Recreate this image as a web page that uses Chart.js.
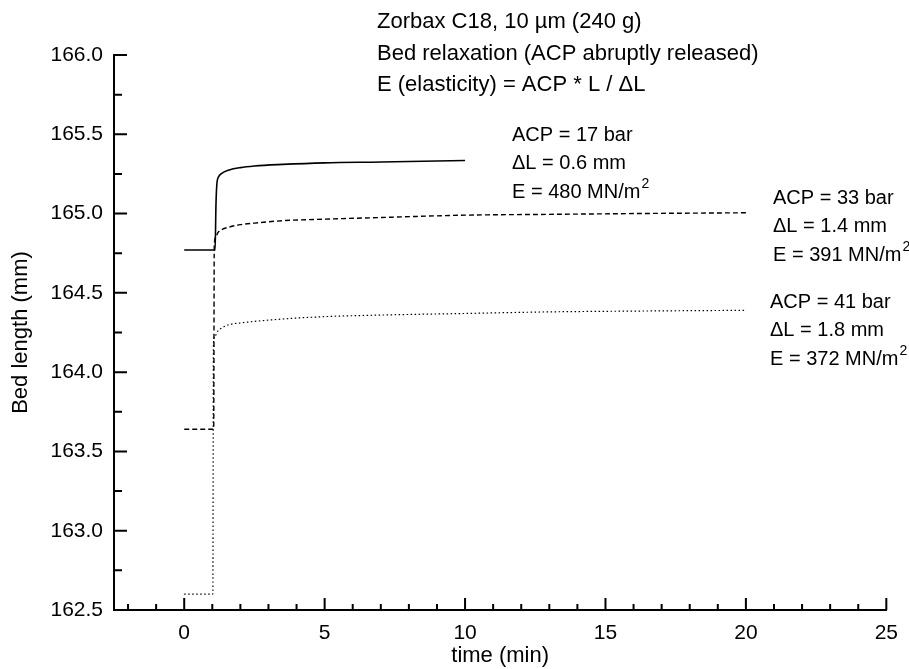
<!DOCTYPE html>
<html>
<head>
<meta charset="utf-8">
<script src="https://cdn.jsdelivr.net/npm/chart.js@4/dist/chart.umd.min.js"></script>
<style>
html,body{margin:0;padding:0;background:#fff;}
canvas{display:block;}
</style>
</head>
<body>
<canvas id="c" width="909" height="669"></canvas>
<script>
// ---- data ----
const time17 = [0, 1.1, 1.13, 1.16, 1.22, 1.35, 1.6, 2.0, 2.5, 3.5, 5, 7, 10];
const len17  = [164.77, 164.77, 165.05, 165.18, 165.23, 165.255, 165.275, 165.29, 165.30, 165.31, 165.32, 165.325, 165.335];

const time33 = [0, 1.05, 1.07, 1.12, 1.2, 1.35, 1.6, 2.0, 2.5, 3.5, 5, 7, 10, 13, 16, 20];
const len33  = [163.64, 163.64, 164.80, 164.85, 164.88, 164.90, 164.915, 164.93, 164.94, 164.955, 164.965, 164.975, 164.99, 164.995, 165.0, 165.005];

const time41 = [0, 1.02, 1.04, 1.1, 1.2, 1.35, 1.6, 2.0, 2.5, 3.5, 5, 7, 10, 13, 16, 20];
const len41  = [162.60, 162.60, 164.18, 164.23, 164.26, 164.28, 164.30, 164.31, 164.32, 164.335, 164.35, 164.36, 164.37, 164.38, 164.385, 164.39];

const xTickValues = [0, 5, 10, 15, 20, 25];
const yTickValues = [162.5, 163.0, 163.5, 164.0, 164.5, 165.0, 165.5, 166.0];
const xMinorValues = [-2,-1,1,2,3,4,6,7,8,9,11,12,13,14,16,17,18,19,21,22,23,24];
const yMinorValues = [162.75, 163.25, 163.75, 164.25, 164.75, 165.25, 165.75];

const titleLines = ["Zorbax C18, 10 \u00b5m (240 g)", "Bed relaxation (ACP abruptly released)", "E (elasticity) = ACP * L / \u0394L"];
const block17 = ["ACP = 17 bar", "\u0394L = 0.6 mm", "E = 480 MN/m"];
const block33 = ["ACP = 33 bar", "\u0394L = 1.4 mm", "E = 391 MN/m"];
const block41 = ["ACP = 41 bar", "\u0394L = 1.8 mm", "E = 372 MN/m"];

function pts(xs, ys){ return xs.map((x,i)=>({x:x, y:ys[i]})); }

const FONT = "'Liberation Sans', Arial, Helvetica, sans-serif";

const decor = {
  id: 'decor',
  afterDraw(chart){
    const ctx = chart.ctx;
    const xs = chart.scales.x, ys = chart.scales.y;
    const a = chart.chartArea;
    ctx.save();
    ctx.strokeStyle = '#000';
    ctx.lineWidth = 2;
    ctx.beginPath();
    xTickValues.forEach(v=>{ const p = xs.getPixelForValue(v); ctx.moveTo(p, a.bottom); ctx.lineTo(p, a.bottom-12); });
    xMinorValues.forEach(v=>{ const p = xs.getPixelForValue(v); ctx.moveTo(p, a.bottom); ctx.lineTo(p, a.bottom-6); });
    yTickValues.forEach(v=>{ const p = ys.getPixelForValue(v); ctx.moveTo(a.left, p); ctx.lineTo(a.left+13, p); });
    yMinorValues.forEach(v=>{ const p = ys.getPixelForValue(v); ctx.moveTo(a.left, p); ctx.lineTo(a.left+8, p); });
    ctx.stroke();

    ctx.fillStyle = '#000';
    ctx.textBaseline = 'middle';
    ctx.textAlign = 'left';
    ctx.font = '22px ' + FONT;
    const tY = [22, 54, 85];
    titleLines.forEach((s,i)=>ctx.fillText(s, 377, tY[i]));

    function block(lines, x, y0){
      ctx.font = '20px ' + FONT;
      lines.forEach((s,i)=>ctx.fillText(s, x, y0 + i*28.5));
      const last = lines[lines.length-1];
      const w = ctx.measureText(last).width;
      ctx.font = '14px ' + FONT;
      ctx.fillText('2', x + w + 1, y0 + 2*28.5 - 8);
    }
    block(block17, 512, 135);
    block(block33, 773, 198);
    block(block41, 770, 302);
    ctx.restore();
  }
};

new Chart(document.getElementById('c'), {
  type: 'line',
  data: {
    datasets: [
      { label: 'ACP 17 bar', data: pts(time17, len17), borderColor: '#000', borderWidth: 1.6, pointRadius: 0, fill: false, cubicInterpolationMode: 'monotone' },
      { label: 'ACP 33 bar', data: pts(time33, len33), borderColor: '#000', borderWidth: 1.4, borderDash: [5, 3], pointRadius: 0, fill: false, cubicInterpolationMode: 'monotone' },
      { label: 'ACP 41 bar', data: pts(time41, len41), borderColor: '#000', borderWidth: 1.2, borderDash: [1.5, 2.5], pointRadius: 0, fill: false, cubicInterpolationMode: 'monotone' }
    ]
  },
  options: {
    responsive: false,
    devicePixelRatio: 1,
    animation: false,
    events: [],
    layout: { padding: { left: 0, top: 55, right: 16, bottom: 0 } },
    plugins: { legend: { display: false }, tooltip: { enabled: false } },
    scales: {
      x: {
        type: 'linear', min: -2.5, max: 25,
        afterFit(s){ s.height = 59; },
        afterBuildTicks(s){ s.ticks = xTickValues.map(v=>({value:v})); },
        grid: { display: false, drawTicks: false },
        border: { display: true, color: '#000', width: 2 },
        ticks: { color: '#000', font: { family: FONT, size: 21 }, padding: 11, maxRotation: 0, callback: v => String(v) },
        title: { display: true, text: 'time (min)', color: '#000', font: { family: FONT, size: 22 }, padding: { top: 0, bottom: 0 } }
      },
      y: {
        type: 'linear', min: 162.5, max: 166.0,
        afterFit(s){ s.width = 114; },
        afterBuildTicks(s){ s.ticks = yTickValues.map(v=>({value:v})); },
        grid: { display: false, drawTicks: false },
        border: { display: true, color: '#000', width: 2 },
        ticks: { color: '#000', font: { family: FONT, size: 21 }, padding: 11, callback: v => Number(v).toFixed(1) },
        title: { display: true, text: 'Bed length (mm)', color: '#000', font: { family: FONT, size: 22 }, padding: { top: 8, bottom: 0 } }
      }
    }
  },
  plugins: [decor]
});
</script>
</body>
</html>
